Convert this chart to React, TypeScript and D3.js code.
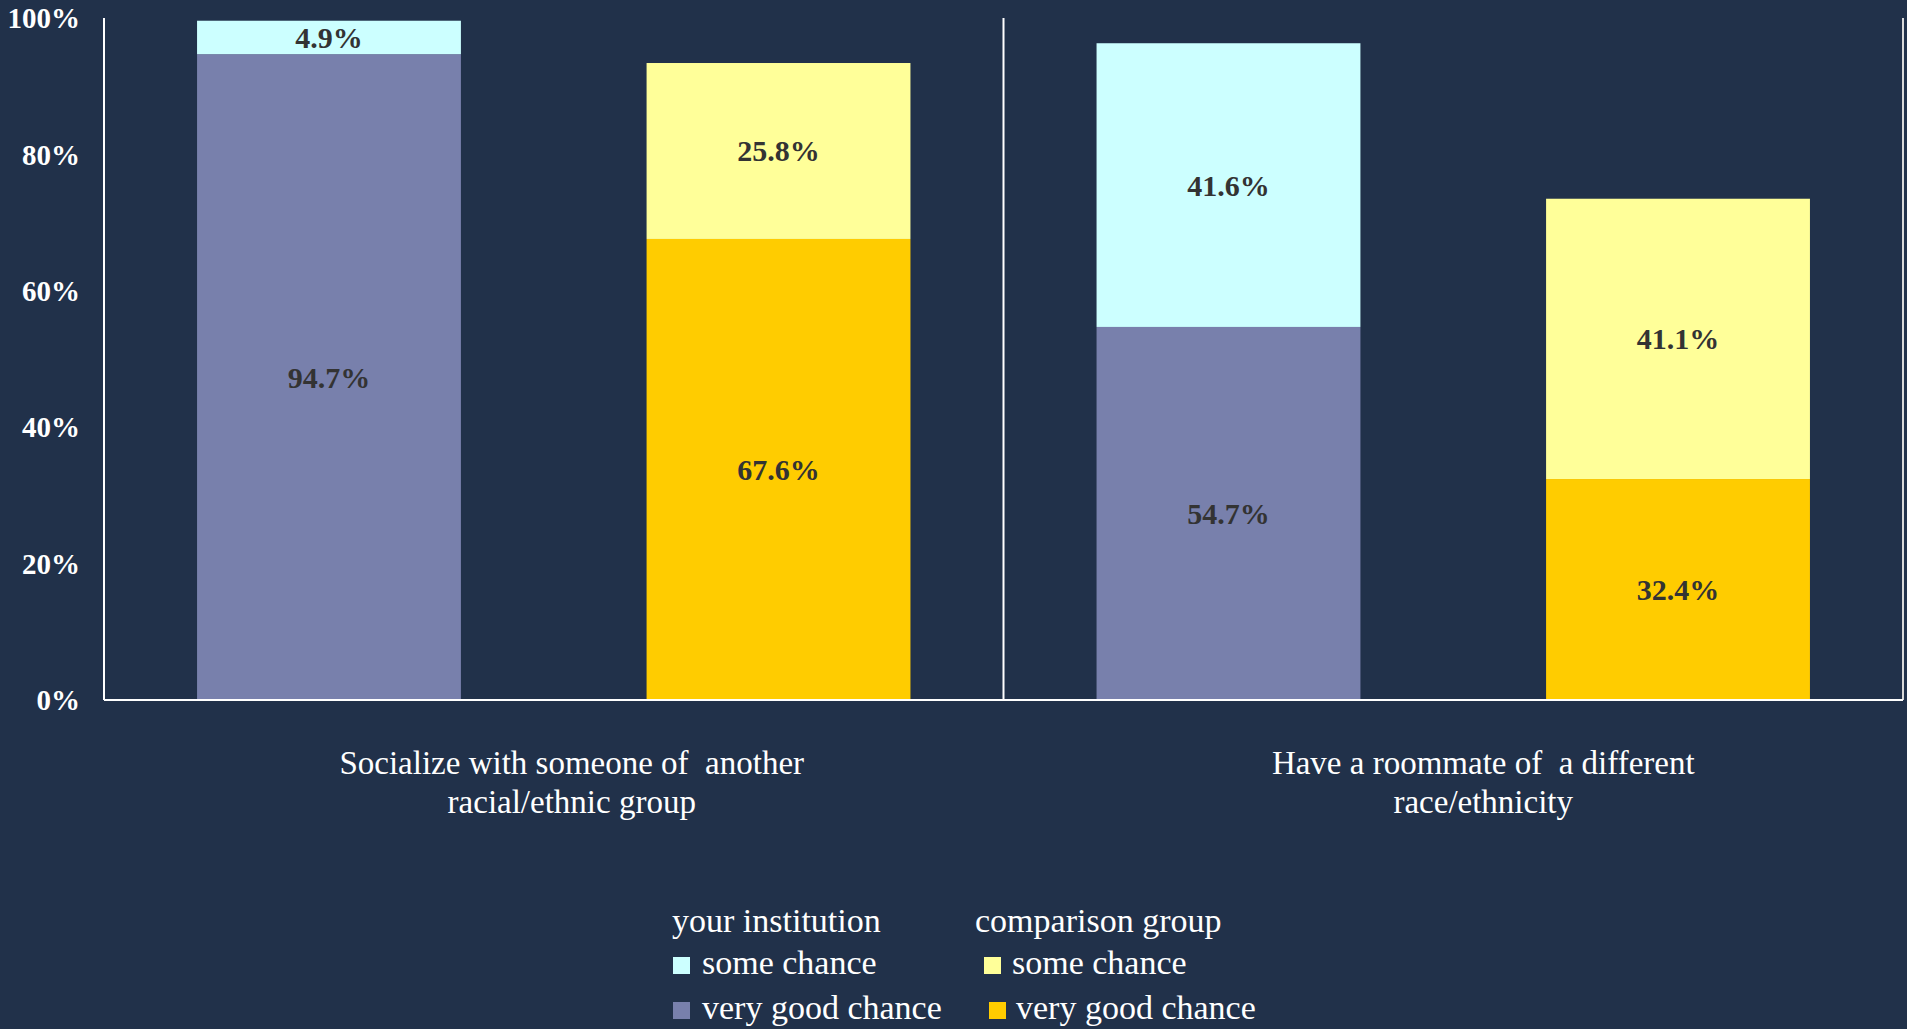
import * as d3 from "d3";

const width = 1907;
const height = 1029;
const margin = { top: 18, right: 4, bottom: 329, left: 104 };

const categories = ["Socialize", "Roommate"];
const categoryLines = [
  ["Socialize with someone of  another", "racial/ethnic group"],
  ["Have a roommate of  a different", "race/ethnicity"],
];
// label centre shift from the band centre, px
const labelShift = [18, 30];
const groups = ["your institution", "comparison group"];

// values in %
const yourVeryGood = [94.7, 54.7];
const yourSome = [4.9, 41.6];
const compVeryGood = [67.6, 32.4];
const compSome = [25.8, 41.1];

const yTicks = [0, 20, 40, 60, 80, 100];

const colors = {
  yourVeryGood: "#7880ac",
  yourSome: "#ccffff",
  compVeryGood: "#ffcc00",
  compSome: "#ffff99",
};

const bg = "#21314a";
const font = "'Liberation Serif', 'DejaVu Serif', serif";

const rows = categories.map((c, i) => ({
  category: c,
  group: groups[0],
  veryGood: yourVeryGood[i],
  some: yourSome[i],
})).concat(
  categories.map((c, i) => ({
    category: c,
    group: groups[1],
    veryGood: compVeryGood[i],
    some: compSome[i],
  }))
);

const stack = d3.stack<any>().keys(["veryGood", "some"]);
const series = stack(rows);

const x0 = d3
  .scaleBand()
  .domain(categories)
  .range([margin.left, width - margin.right]);

const x1 = d3
  .scaleBand()
  .domain(groups)
  .range([0, x0.bandwidth()])
  .paddingInner(0.413)
  .paddingOuter(0.207);

const y = d3
  .scaleLinear()
  .domain([0, 100])
  .range([height - margin.bottom, margin.top]);

const fillFor = (key: string, group: string) => {
  if (group === groups[0]) return key === "veryGood" ? colors.yourVeryGood : colors.yourSome;
  return key === "veryGood" ? colors.compVeryGood : colors.compSome;
};

const legendItems = [
  { label: "some chance", color: colors.yourSome, x: 673, tx: 702, y: 957, ty: 974 },
  { label: "very good chance", color: colors.yourVeryGood, x: 673, tx: 702, y: 1002, ty: 1019 },
  { label: "some chance", color: colors.compSome, x: 984, tx: 1012, y: 957, ty: 974 },
  { label: "very good chance", color: colors.compVeryGood, x: 989, tx: 1016, y: 1002, ty: 1019 },
];

export default function App() {
  const y0 = y(0);
  const yTop = y(100);
  return (
    <svg
      width={width}
      height={height}
      style={{ position: "absolute", left: 0, top: 0, background: bg, display: "block" }}
      fontFamily={font}
    >
      <rect width={width} height={height} fill={bg} />

      {/* bars */}
      {series.map((s) =>
        s.map((d, i) => {
          const row = rows[i];
          const bx = (x0(row.category) ?? 0) + (x1(row.group) ?? 0);
          const val = (row as any)[s.key];
          return (
            <g key={s.key + i}>
              <rect
                x={bx}
                y={y(d[1])}
                width={x1.bandwidth()}
                height={y(d[0]) - y(d[1])}
                fill={fillFor(s.key, row.group)}
              />
              <text
                x={bx + x1.bandwidth() / 2}
                y={(y(d[0]) + y(d[1])) / 2}
                dy="0.35em"
                textAnchor="middle"
                fontSize={30}
                fontWeight="bold"
                fill="#333333"
              >
                {d3.format(".1f")(val)}%
              </text>
            </g>
          );
        })
      )}

      {/* frame lines */}
      <line x1={margin.left} x2={margin.left} y1={yTop} y2={y0} stroke="#ffffff" strokeWidth={2} />
      {categories.slice(1).map((c) => (
        <line key={c} x1={x0(c)} x2={x0(c)} y1={yTop} y2={y0} stroke="#ffffff" strokeWidth={2} />
      ))}
      <line
        x1={width - margin.right}
        x2={width - margin.right}
        y1={yTop}
        y2={y0}
        stroke="#d9d9d9"
        strokeWidth={2}
      />
      <line x1={margin.left} x2={width - margin.right} y1={y0} y2={y0} stroke="#ffffff" strokeWidth={2} />

      {/* y ticks */}
      {yTicks.map((t) => (
        <text
          key={t}
          x={80}
          y={y(t)}
          dy="0.35em"
          textAnchor="end"
          fontSize={29}
          fontWeight="bold"
          fill="#ffffff"
        >
          {t}%
        </text>
      ))}

      {/* category labels */}
      {categories.map((c, i) => {
        const cx = (x0(c) ?? 0) + x0.bandwidth() / 2 + labelShift[i];
        return (
          <text
            key={c}
            x={cx}
            y={774}
            textAnchor="middle"
            fontSize={33}
            fill="#ffffff"
            style={{ whiteSpace: "pre" }}
          >
            {categoryLines[i].map((line, j) => (
              <tspan key={j} x={cx} dy={j === 0 ? 0 : 39}>
                {line}
              </tspan>
            ))}
          </text>
        );
      })}

      {/* legend */}
      <text x={672} y={932} fontSize={34} fill="#ffffff">
        {groups[0]}
      </text>
      <text x={975} y={932} fontSize={34} fill="#ffffff">
        {groups[1]}
      </text>
      {legendItems.map((it, i) => (
        <g key={i}>
          <rect x={it.x} y={it.y} width={17} height={17} fill={it.color} />
          <text x={it.tx} y={it.ty} fontSize={34} fill="#ffffff">
            {it.label}
          </text>
        </g>
      ))}
    </svg>
  );
}
